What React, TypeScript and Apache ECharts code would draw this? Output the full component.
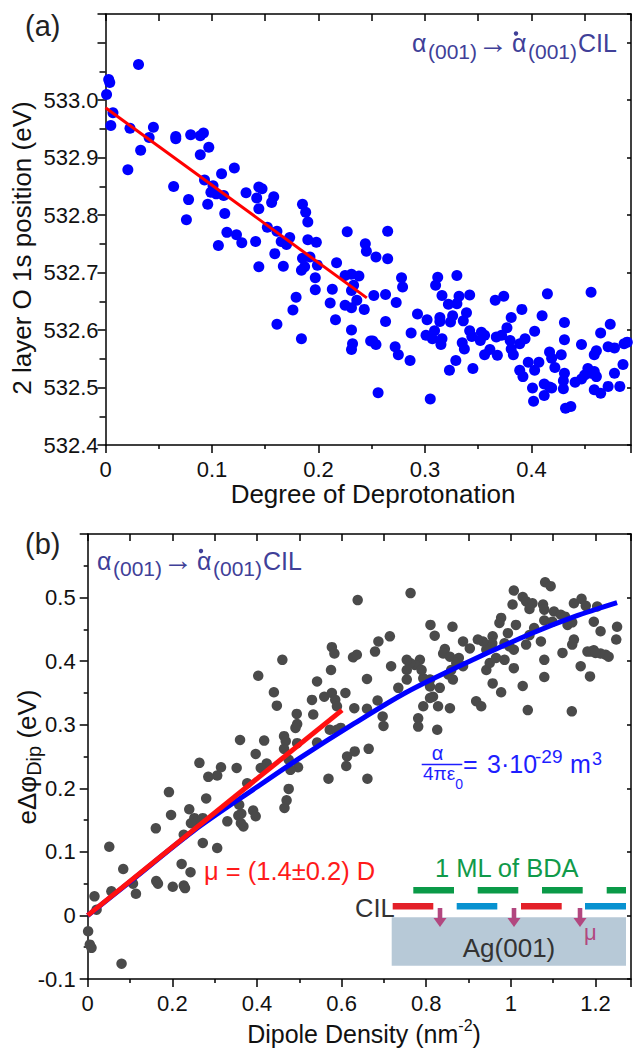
import React, { useEffect, useRef } from 'react';
import * as echarts from 'echarts';

const FONT = '"Liberation Sans", Arial, Helvetica, sans-serif';

// ---------- Panel (a): 2nd layer O 1s position vs degree of deprotonation ----------
const topXLabels = ['0', '0.1', '0.2', '0.3', '0.4'];
const topYLabels = ['532.4', '532.5', '532.6', '532.7', '532.8', '532.9', '533.0'];
const topXRange = [0, 0.4935];
const topYRange = [532.4, 533.15];

const topPoints: number[][] = [
  [0.031, 533.062], [0.003, 533.036], [0.004, 533.031], [0.001, 533.01], [0.007, 532.978],
  [0.005, 532.956], [0.023, 532.951], [0.045, 532.953], [0.041, 532.935], [0.033, 532.913],
  [0.021, 532.879], [0.066, 532.937], [0.066, 532.933], [0.08, 532.94], [0.089, 532.938],
  [0.092, 532.943], [0.097, 532.918], [0.089, 532.905], [0.064, 532.85], [0.078, 532.827],
  [0.076, 532.792], [0.093, 532.861], [0.101, 532.851], [0.099, 532.84], [0.104, 532.837],
  [0.111, 532.834], [0.096, 532.819], [0.109, 532.872], [0.121, 532.882], [0.112, 532.803],
  [0.114, 532.77], [0.123, 532.766], [0.128, 532.752], [0.106, 532.747], [0.132, 532.839],
  [0.144, 532.849], [0.147, 532.846], [0.142, 532.83], [0.158, 532.832], [0.156, 532.822],
  [0.144, 532.811], [0.141, 532.754], [0.152, 532.779], [0.161, 532.772], [0.165, 532.754],
  [0.17, 532.749], [0.173, 532.761], [0.159, 532.733], [0.144, 532.71], [0.167, 532.711],
  [0.185, 532.819], [0.188, 532.805], [0.19, 532.788], [0.19, 532.757], [0.198, 532.753],
  [0.185, 532.725], [0.192, 532.727], [0.187, 532.71], [0.184, 532.704], [0.199, 532.713],
  [0.197, 532.691], [0.197, 532.67], [0.179, 532.657], [0.176, 532.635], [0.161, 532.61],
  [0.184, 532.585], [0.217, 532.717], [0.227, 532.771], [0.213, 532.671], [0.211, 532.647],
  [0.216, 532.618], [0.225, 532.695], [0.231, 532.697], [0.238, 532.694], [0.233, 532.678],
  [0.231, 532.669], [0.236, 532.652], [0.225, 532.643], [0.231, 532.639], [0.244, 532.75],
  [0.245, 532.737], [0.243, 532.636], [0.231, 532.6], [0.232, 532.576], [0.231, 532.566],
  [0.249, 532.581], [0.265, 532.772], [0.254, 532.727], [0.265, 532.724], [0.252, 532.66],
  [0.263, 532.662], [0.273, 532.648], [0.278, 532.691], [0.279, 532.675], [0.263, 532.615],
  [0.251, 532.581], [0.254, 532.575], [0.272, 532.571], [0.275, 532.557], [0.286, 532.547],
  [0.256, 532.491], [0.293, 532.628], [0.287, 532.595], [0.302, 532.618], [0.301, 532.591],
  [0.307, 532.585], [0.309, 532.599], [0.314, 532.622], [0.314, 532.615], [0.316, 532.585],
  [0.315, 532.575], [0.312, 532.692], [0.31, 532.678], [0.316, 532.66], [0.322, 532.645],
  [0.33, 532.646], [0.33, 532.695], [0.332, 532.659], [0.326, 532.625], [0.324, 532.614],
  [0.329, 532.547], [0.323, 532.53], [0.305, 532.48], [0.339, 532.63], [0.336, 532.616],
  [0.342, 532.661], [0.342, 532.599], [0.344, 532.589], [0.353, 532.596], [0.352, 532.582],
  [0.356, 532.591], [0.335, 532.578], [0.337, 532.567], [0.345, 532.533], [0.356, 532.557],
  [0.361, 532.566], [0.368, 532.556], [0.366, 532.652], [0.374, 532.659], [0.367, 532.588],
  [0.372, 532.591], [0.377, 532.604], [0.381, 532.622], [0.391, 532.636], [0.38, 532.582],
  [0.381, 532.567], [0.383, 532.557], [0.389, 532.576], [0.394, 532.585], [0.403, 532.598],
  [0.389, 532.53], [0.392, 532.519], [0.397, 532.544], [0.403, 532.53], [0.407, 532.544],
  [0.401, 532.499], [0.402, 532.476], [0.41, 532.625], [0.415, 532.663], [0.417, 532.562],
  [0.419, 532.551], [0.422, 532.535], [0.412, 532.506], [0.417, 532.501], [0.419, 532.499],
  [0.412, 532.486], [0.428, 532.557], [0.431, 532.613], [0.431, 532.583], [0.431, 532.525],
  [0.43, 532.512], [0.43, 532.498], [0.432, 532.464], [0.437, 532.467], [0.441, 532.509],
  [0.447, 532.515], [0.45, 532.522], [0.453, 532.533], [0.456, 532.525], [0.459, 532.528],
  [0.461, 532.519], [0.447, 532.575], [0.456, 532.666], [0.459, 532.557], [0.461, 532.564],
  [0.465, 532.595], [0.474, 532.61], [0.472, 532.571], [0.478, 532.569], [0.459, 532.496],
  [0.465, 532.49], [0.472, 532.502], [0.478, 532.525], [0.483, 532.502], [0.486, 532.54],
  [0.487, 532.576], [0.49, 532.579],
];
const topFit: number[][] = [[0, 532.987], [0.2454, 532.656]];

// ---------- Panel (b): work-function change vs dipole density ----------
const botXLabels = ['0', '0.2', '0.4', '0.6', '0.8', '1', '1.2'];
const botYLabels = ['-0.1', '0', '0.1', '0.2', '0.3', '0.4', '0.5'];
const botXRange = [0, 1.2839];
const botYRange = [-0.1, 0.6];

const botPoints: number[][] = [
  [0.638, 0.496], [0.577, 0.422], [0.583, 0.412], [0.627, 0.406], [0.636, 0.41], [0.46, 0.402],
  [0.403, 0.377], [0.575, 0.386], [0.542, 0.368], [0.44, 0.351], [0.447, 0.33], [0.53, 0.339],
  [0.559, 0.344], [0.577, 0.35], [0.585, 0.339], [0.609, 0.35], [0.589, 0.329], [0.63, 0.326],
  [0.494, 0.317], [0.533, 0.316], [0.495, 0.301], [0.491, 0.295], [0.572, 0.292], [0.589, 0.292],
  [0.598, 0.295], [0.36, 0.276], [0.417, 0.275], [0.464, 0.282], [0.468, 0.274], [0.464, 0.262],
  [0.495, 0.271], [0.542, 0.272], [0.397, 0.254], [0.475, 0.245], [0.497, 0.233], [0.479, 0.229],
  [0.423, 0.239], [0.409, 0.232], [0.352, 0.232], [0.315, 0.233], [0.306, 0.22], [0.285, 0.218],
  [0.264, 0.24], [0.377, 0.208], [0.613, 0.25], [0.611, 0.235], [0.569, 0.215], [0.631, 0.258],
  [0.475, 0.199], [0.47, 0.181], [0.465, 0.169], [0.358, 0.174], [0.363, 0.16], [0.391, 0.165],
  [0.397, 0.156], [0.356, 0.157], [0.368, 0.14], [0.362, 0.145], [0.33, 0.148], [0.28, 0.184],
  [0.24, 0.167], [0.252, 0.153], [0.26, 0.148], [0.272, 0.153], [0.244, 0.145], [0.227, 0.127],
  [0.272, 0.114], [0.306, 0.106], [0.192, 0.194], [0.197, 0.158], [0.161, 0.137], [0.051, 0.108],
  [0.084, 0.073], [0.107, 0.05], [0.114, 0.034], [0.056, 0.038], [0.162, 0.054], [0.166, 0.05],
  [0.201, 0.045], [0.227, 0.047], [0.23, 0.043], [0.222, 0.081], [0.243, 0.068], [0.016, 0.03],
  [0.021, 0.009], [0.001, -0.025], [0.005, -0.046], [0.009, -0.051], [0.08, -0.076],
  [0.763, 0.507], [1.081, 0.524], [1.094, 0.518], [1.007, 0.511], [1.028, 0.501], [1.036, 0.494],
  [1.051, 0.491], [1.044, 0.482], [1.004, 0.489], [1.076, 0.489], [1.079, 0.481], [1.102, 0.478],
  [1.118, 0.473], [1.128, 0.47], [1.149, 0.491], [1.167, 0.498], [1.177, 0.487], [1.079, 0.464],
  [1.098, 0.462], [1.134, 0.457], [1.145, 0.461], [1.204, 0.486], [1.251, 0.454], [1.249, 0.434],
  [1.224, 0.41], [1.212, 0.412], [1.196, 0.417], [1.181, 0.415], [1.149, 0.434], [1.145, 0.426],
  [1.122, 0.413], [1.165, 0.392], [1.187, 0.376], [1.079, 0.402], [1.079, 0.375], [1.044, 0.441],
  [1.036, 0.426], [1.071, 0.431], [1.055, 0.452], [1.007, 0.418], [1.007, 0.389], [1.028, 0.361],
  [1.04, 0.323], [1.144, 0.321], [0.977, 0.468], [0.973, 0.46], [0.993, 0.444], [1.012, 0.457],
  [0.985, 0.428], [0.997, 0.423], [0.957, 0.439], [0.956, 0.428], [0.95, 0.422], [0.942, 0.418],
  [0.934, 0.431], [0.922, 0.434], [0.903, 0.42], [0.887, 0.431], [0.862, 0.454], [0.81, 0.457],
  [0.82, 0.44], [0.844, 0.419], [0.84, 0.412], [0.856, 0.407], [0.877, 0.405], [0.871, 0.397],
  [0.887, 0.392], [0.859, 0.386], [0.852, 0.379], [0.863, 0.371], [0.942, 0.386], [0.95, 0.397],
  [0.965, 0.405], [0.985, 0.402], [0.957, 0.365], [0.977, 0.351], [0.918, 0.337], [0.93, 0.329],
  [0.816, 0.344], [0.809, 0.342], [0.828, 0.329], [0.856, 0.326], [0.793, 0.329], [0.781, 0.31],
  [0.781, 0.297], [0.826, 0.292], [0.785, 0.402], [0.773, 0.394], [0.762, 0.397], [0.754, 0.386],
  [0.754, 0.371], [0.734, 0.358], [0.754, 0.402], [0.809, 0.371], [0.809, 0.36], [0.793, 0.373],
  [0.789, 0.386], [0.832, 0.358], [0.714, 0.439], [0.687, 0.431], [0.679, 0.415], [0.717, 0.392],
  [0.66, 0.372], [0.685, 0.338], [0.66, 0.325], [0.697, 0.313], [0.699, 0.298], [0.664, 0.262],
  [0.661, 0.215], [1.212, 0.447], [1.196, 0.462], [1.19, 0.415], [1.2, 0.413], [1.231, 0.407],
];
const botLinearFit: number[][] = [[0, 0], [0.601, 0.323]];
const botToppingFit: number[][] = [
  [0, 0], [0.1, 0.053], [0.25, 0.133], [0.4, 0.202], [0.5, 0.247], [0.63, 0.302],
  [0.75, 0.35], [0.89, 0.396], [1.047, 0.443], [1.15, 0.47], [1.251, 0.492],
];

// ---------- text helpers ----------
const K = 0.3465; // central baseline offset (em) for Liberation Sans
let measureCtx: CanvasRenderingContext2D | null = null;
function tw(text: string, size: number): number {
  if (!measureCtx) measureCtx = document.createElement('canvas').getContext('2d');
  measureCtx!.font = `${size}px ${FONT}`;
  return measureCtx!.measureText(text).width;
}
function txt(text: string, x: number, baseline: number, size: number, color: string, align = 'left'): any {
  return {
    type: 'text', x, y: baseline - K * size, silent: true,
    style: { text, fontSize: size, fontFamily: FONT, fill: color, align, verticalAlign: 'middle' },
  };
}
type Seg = { t: string; s: number; dy?: number };
function segsWidth(segs: Seg[]) { return segs.reduce((a, g) => a + tw(g.t, g.s), 0); }
function run(segs: Seg[], x0: number, baseline: number, color: string): any[] {
  let x = x0;
  return segs.map((g) => { const e = txt(g.t, x, baseline + (g.dy || 0), g.s, color); x += tw(g.t, g.s); return e; });
}

const TEXT = '#111';
const ANNO = '#404098';

function alphaLabel(x0: number, baseline: number): any[] {
  const off = [0, 16, 66, 100, 116, 166];
  return [
    txt('α', x0 + off[0], baseline, 25, ANNO),
    txt('(001)', x0 + off[1], baseline + 6.5, 21, ANNO),
    txt('→', x0 + off[2], baseline + 0.5, 30, ANNO),
    txt('α', x0 + off[3], baseline, 25, ANNO),
    { type: 'circle', silent: true, shape: { cx: x0 + off[3] + 4, cy: baseline - 18.5, r: 2.2 }, style: { fill: ANNO } },
    txt('(001)', x0 + off[4], baseline + 6.5, 21, ANNO),
    txt('CIL', x0 + off[5], baseline, 25, ANNO),
  ];
}

function buildGraphics(): any[] {
  const g: any[] = [];
  // panel letters
  g.push(txt('(a)', 25, 36.5, 29, '#222'));
  g.push(txt('(b)', 25, 554.5, 29, '#222'));
  // axis titles panel (a)
  const yTitleA = '2 layer O 1s position (eV)';
  const wA = tw(yTitleA, 26);
  g.push({ type: 'group', x: 31.5, y: 248 + wA / 2, rotation: Math.PI / 2, silent: true,
    children: [txt(yTitleA, 0, 0, 26, TEXT)] });
  g.push(txt('Degree of Deprotonation', 373, 503.5, 26, TEXT, 'center'));
  // axis titles panel (b)
  const ySegs: Seg[] = [{ t: 'eΔφ', s: 26 }, { t: 'Dip', s: 20, dy: 4 }, { t: ' (eV)', s: 26 }];
  const wB = segsWidth(ySegs);
  g.push({ type: 'group', x: 36.5, y: 757 + wB / 2, rotation: Math.PI / 2, silent: true,
    children: run(ySegs, 0, 0, TEXT) });
  const xSegs: Seg[] = [{ t: 'Dipole Density (nm', s: 25 }, { t: '-2', s: 16, dy: -12 }, { t: ')', s: 25 }];
  g.push(...run(xSegs, 364 - segsWidth(xSegs) / 2, 1043, TEXT));
  // annotations
  g.push(...alphaLabel(412, 52));
  g.push(...alphaLabel(97, 569.5));
  const BLUE = '#1e1eff';
  g.push(txt('α', 437.5, 759.5, 20, BLUE, 'center'));
  g.push({ type: 'line', silent: true, shape: { x1: 421.7, y1: 764.5, x2: 462.3, y2: 764.5 }, style: { stroke: BLUE, lineWidth: 1.5 } });
  g.push(...run([{ t: '4πε', s: 19 }, { t: '0', s: 14, dy: 9 }], 423, 780, BLUE));
  g.push(txt('=', 463, 773, 25, BLUE));
  g.push(txt('3·10', 487, 773, 25, BLUE));
  g.push(txt('-29', 535, 763, 19, BLUE));
  g.push(txt('m', 570, 773, 25, BLUE));
  g.push(txt('3', 592, 765, 18, BLUE));
  g.push(txt('μ = (1.4±0.2) D', 204, 879.5, 25.5, '#ff1a1a'));
  // inset scheme
  g.push({ type: 'rect', silent: true, shape: { x: 391.7, y: 917.3, width: 234.3, height: 48.4 }, style: { fill: '#b7c9d7' } });
  g.push(txt('1 ML of BDA', 435, 877, 25.5, '#109a4a'));
  const GREEN = '#0a9a48';
  [[413.3, 454], [477.7, 518.3], [542, 582.7], [606.7, 626]].forEach(([a, b]) =>
    g.push({ type: 'rect', silent: true, shape: { x: a, y: 887, width: b - a, height: 6.5 }, style: { fill: GREEN } }));
  [[392.7, 433.3, '#e32029'], [456.7, 497.3, '#0892d0'], [521, 561.7, '#e32029'], [585, 626, '#0892d0']].forEach(([a, b, c]: any) =>
    g.push({ type: 'rect', silent: true, shape: { x: a, y: 903, width: b - a, height: 6.5 }, style: { fill: c } }));
  g.push(txt('CIL', 355, 917, 25.5, '#333'));
  const MAG = '#b2477f';
  [440, 514, 580].forEach((x) => {
    g.push({ type: 'rect', silent: true, shape: { x: x - 2.3, y: 908, width: 4.6, height: 11 }, style: { fill: MAG } });
    g.push({ type: 'polygon', silent: true, shape: { points: [[x - 6.5, 918], [x + 6.5, 918], [x, 927]] }, style: { fill: MAG } });
  });
  g.push(txt('μ', 584, 940, 22, MAG));
  g.push(txt('Ag(001)', 509, 957, 26, '#333', 'center'));
  return g;
}

function labelFmt(labels: string[]) {
  return (v: number) => {
    const l = labels.find((s) => Math.abs(parseFloat(s) - v) < 1e-6);
    return l === undefined ? '' : l;
  };
}

const LINE = { color: '#000', width: 1.5 };

function mainAxis(grid: number, pos: string, range: number[], interval: number, labels: string[], tickLen: number, minorLen: number, margin: number): any {
  return {
    type: 'value', gridIndex: grid, position: pos, min: range[0], max: range[1], interval,
    axisLine: { show: true, onZero: false, lineStyle: LINE },
    axisTick: { show: true, inside: false, length: tickLen, lineStyle: LINE },
    minorTick: { show: true, splitNumber: 2, length: minorLen, lineStyle: LINE },
    splitLine: { show: false }, minorSplitLine: { show: false },
    axisLabel: { show: true, fontSize: 22, fontFamily: FONT, color: TEXT, margin, formatter: labelFmt(labels), showMaxLabel: true, showMinLabel: true },
  };
}
function mirrorAxis(grid: number, pos: string, range: number[], interval: number, tickLen: number): any {
  return {
    type: 'value', gridIndex: grid, position: pos, min: range[0], max: range[1], interval,
    axisLine: { show: true, onZero: false, lineStyle: LINE },
    axisTick: { show: true, inside: true, length: tickLen, lineStyle: LINE },
    splitLine: { show: false }, axisLabel: { show: false },
  };
}

function buildOption(): any {
  return {
    animation: false,
    backgroundColor: '#fff',
    grid: [
      { left: 105.5, top: 14, width: 528.5, height: 431 },
      { left: 87.7, top: 534, width: 546.3, height: 445 },
    ],
    xAxis: [
      mainAxis(0, 'bottom', topXRange, 0.1, topXLabels, 8, 4, 13),
      mirrorAxis(0, 'top', topXRange, 0.05, 7),
      mainAxis(1, 'bottom', botXRange, 0.2, botXLabels, 8, 4, 13),
      mirrorAxis(1, 'top', botXRange, 0.1, 7),
    ],
    yAxis: [
      mainAxis(0, 'left', topYRange, 0.1, topYLabels, 8, 6, 7),
      mirrorAxis(0, 'right', topYRange, 0.1, 4),
      mainAxis(1, 'left', botYRange, 0.1, botYLabels, 8, 4, 12),
      mirrorAxis(1, 'right', botYRange, 0.1, 4),
    ],
    series: [
      { type: 'scatter', xAxisIndex: 0, yAxisIndex: 0, data: topPoints, symbolSize: 11, itemStyle: { color: '#0000ff', opacity: 1 }, silent: true, z: 2 },
      { type: 'line', xAxisIndex: 0, yAxisIndex: 0, data: topFit, showSymbol: false, symbol: 'none', lineStyle: { color: '#ff0000', width: 3 }, silent: true, z: 3 },
      { type: 'scatter', xAxisIndex: 2, yAxisIndex: 2, data: botPoints, symbolSize: 10.5, itemStyle: { color: '#4a4a4a', opacity: 1 }, silent: true, z: 2 },
      { type: 'line', xAxisIndex: 2, yAxisIndex: 2, data: botToppingFit, smooth: 0.3, showSymbol: false, symbol: 'none', lineStyle: { color: '#0000ff', width: 5 }, silent: true, z: 3 },
      { type: 'line', xAxisIndex: 2, yAxisIndex: 2, data: botLinearFit, showSymbol: false, symbol: 'none', lineStyle: { color: '#ff1010', width: 5 }, silent: true, z: 4 },
    ],
    graphic: { elements: buildGraphics() },
  };
}

export default function App() {
  const ref = useRef<HTMLDivElement>(null);
  useEffect(() => {
    const chart = echarts.init(ref.current!, undefined, { renderer: 'svg' });
    chart.setOption(buildOption());
    return () => chart.dispose();
  }, []);
  return (
    <div
      ref={ref}
      style={{ position: 'fixed', left: 0, top: 0, width: 634, height: 1048, background: '#fff' }}
    />
  );
}
